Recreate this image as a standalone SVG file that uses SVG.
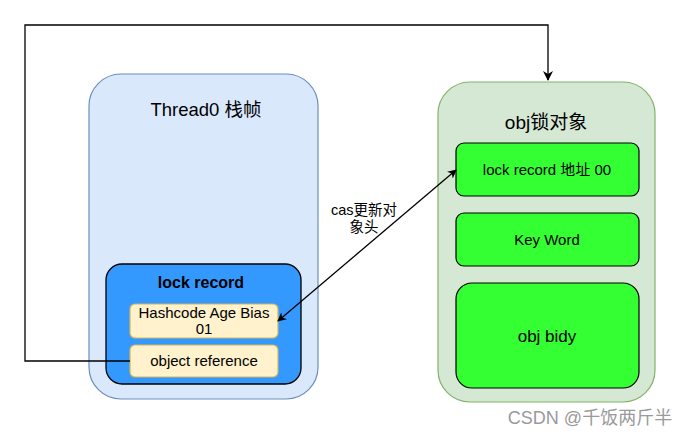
<svg xmlns="http://www.w3.org/2000/svg" width="691" height="438" viewBox="0 0 691 438">
<style>
text{font-family:"Liberation Sans",Arial,"Noto Sans CJK SC",sans-serif;fill:#000;text-anchor:middle}
.green{fill:#33FF33;stroke:#000;stroke-width:1.2}
.cream{fill:#FFF2CC;stroke:#D6B656;stroke-width:1.2}
.conn{fill:none;stroke:#000;stroke-width:1.3}
</style>
<defs>
<marker id="ah" viewBox="0 0 10 10" refX="9" refY="5" markerWidth="9" markerHeight="9" orient="auto-start-reverse" markerUnits="userSpaceOnUse">
<path d="M0,0 L10,5 L0,10 L3,5 Z" fill="#000"/>
</marker>
<marker id="ah2" viewBox="0 0 10 10" refX="9" refY="5" markerWidth="10" markerHeight="10" orient="auto" markerUnits="userSpaceOnUse">
<path d="M0,0 L10,5 L0,10 L3,5 Z" fill="#000"/>
</marker>
</defs>
<rect width="691" height="438" fill="#fff"/>
<g id="thread0">
<rect x="89" y="74" width="229" height="325" rx="32" fill="#DAE8FC" stroke="#6C8EBF" stroke-width="1.2"/>
<text x="206" y="116" font-size="18.5">Thread0 栈帧</text>
</g>
<g id="lockrecord">
<rect x="106" y="264" width="195" height="120" rx="16" fill="#3399FF" stroke="#000" stroke-width="1.3"/>
<text x="201" y="288" font-size="16" font-weight="bold">lock record</text>
</g>
<g id="hashcode">
<rect class="cream" x="130" y="304" width="148" height="34" rx="5"/>
<text x="204" y="318" font-size="15">Hashcode Age Bias</text>
<text x="204" y="334" font-size="15">01</text>
</g>
<g id="objref">
<rect class="cream" x="130" y="345" width="148" height="32" rx="5"/>
<text x="204" y="366" font-size="15">object reference</text>
</g>
<g id="obj">
<rect x="438" y="82" width="217" height="320" rx="32" fill="#D5E8D4" stroke="#82B366" stroke-width="1.2"/>
<text x="546" y="129" font-size="19">obj锁对象</text>
</g>
<g id="lockaddr">
<rect class="green" x="456" y="143" width="183" height="53" rx="8"/>
<text x="547" y="175" font-size="15">lock record 地址 00</text>
</g>
<g id="keyword">
<rect class="green" x="456" y="213" width="183" height="53" rx="8"/>
<text x="547" y="245" font-size="15">Key Word</text>
</g>
<g id="objbody">
<rect class="green" x="456" y="283" width="183" height="105" rx="16"/>
<text x="547" y="342" font-size="17">obj bidy</text>
</g>
<g id="connectors">
<path class="conn" d="M130,361 H25 V25 H548 V80" marker-end="url(#ah2)"/>
<line class="conn" x1="278" y1="321" x2="456" y2="170" marker-start="url(#ah)" marker-end="url(#ah)"/>
<text x="364" y="215" font-size="14.5">cas更新对</text>
<text x="364" y="232" font-size="14.5">象头</text>
</g>
<text x="590" y="424" font-size="18" style="fill:#9a9a9a">CSDN @千饭两斤半</text>
</svg>
